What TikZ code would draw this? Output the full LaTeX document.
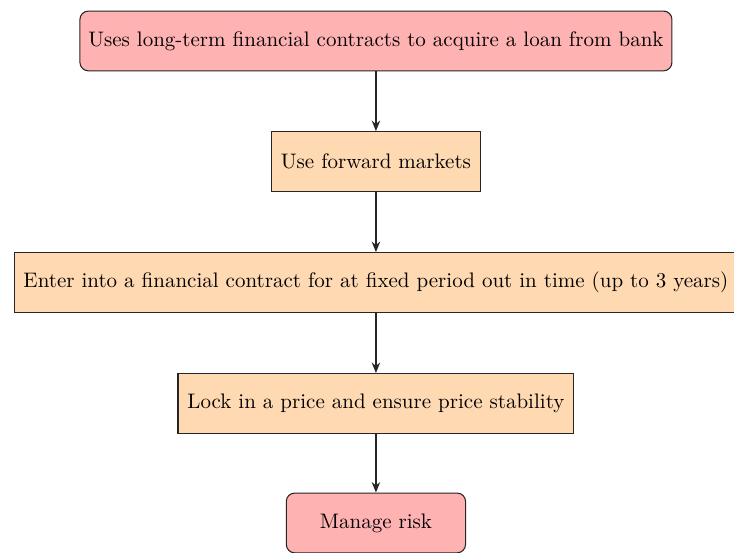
\documentclass[tikz,border=0pt]{standalone}
\usetikzlibrary{arrows.meta}
\begin{document}
\begin{tikzpicture}[
  termbox/.style={draw=black!85, line width=0.5pt, fill=red!30, rounded corners=4pt, minimum width=3cm, minimum height=1cm, inner sep=4pt, text=black},
  procbox/.style={draw=black!85, line width=0.5pt, fill=orange!30, minimum height=1cm, inner sep=4.5pt, text=black},
  flowarrow/.style={thick, draw=black!85, -{Stealth[length=5pt,width=4pt]}}
]
\useasboundingbox (0pt,0pt) rectangle (349.5pt,-262.9pt);
\node[termbox] (a) at (179pt,-19.5pt) {Uses long-term financial contracts to acquire a loan from bank};
\node[procbox] (b) at (179pt,-76.9pt) {Use forward markets};
\node[procbox] (c) at (179pt,-134.5pt) {Enter into a financial contract for at fixed period out in time (up to 3 years)};
\node[procbox] (d) at (179pt,-192.1pt) {Lock in a price and ensure price stability};
\node[termbox] (e) at (179pt,-249.0pt) {Manage risk};
\draw[flowarrow] (a) -- (b);
\draw[flowarrow] (b) -- (c);
\draw[flowarrow] (c) -- (d);
\draw[flowarrow] (d) -- (e);
\end{tikzpicture}
\end{document}
